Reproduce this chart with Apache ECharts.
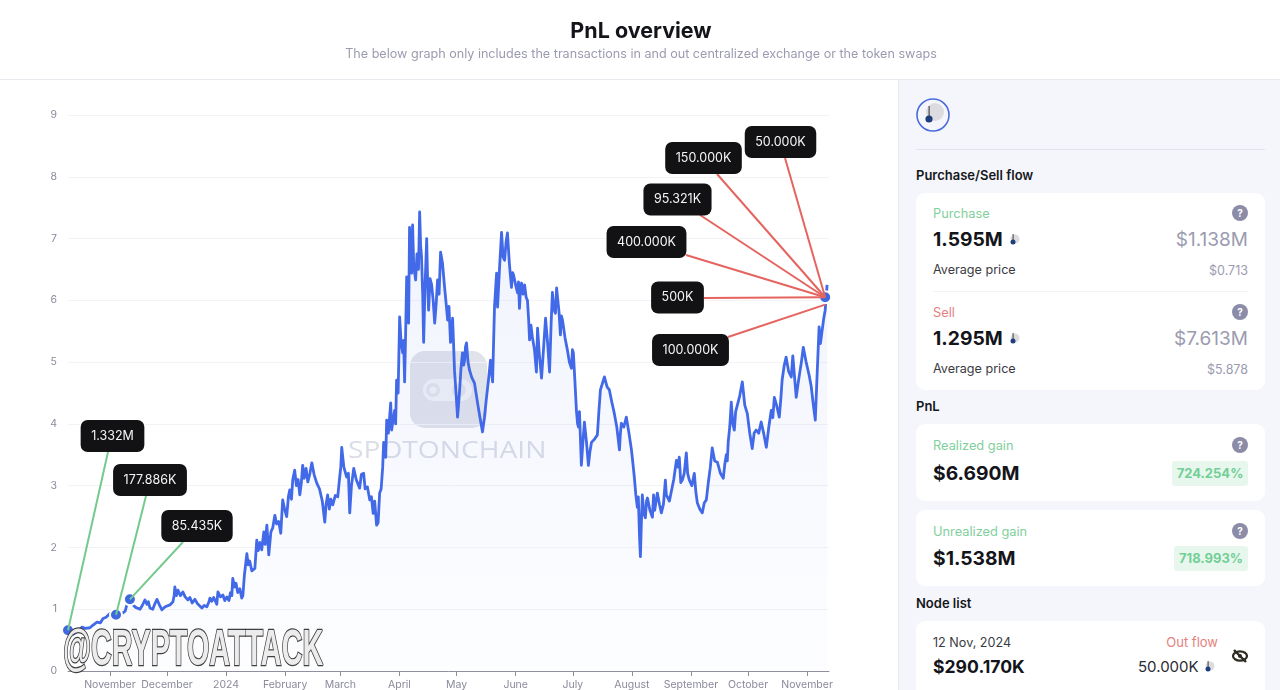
<!DOCTYPE html>
<html>
<head>
<meta charset="utf-8">
<script src="https://cdn.jsdelivr.net/npm/echarts@6/dist/echarts.min.js"></script>
<style>
html,body{margin:0;padding:0;width:1280px;height:690px;overflow:hidden;background:#fff;font-family:Inter,"Noto Sans",sans-serif;}
#chart{position:absolute;left:0;top:0;width:1280px;height:690px;}
#side{position:absolute;left:898px;top:80px;width:382px;height:610px;background:#f5f6fb;border-left:1px solid #e9eaf0;box-sizing:border-box;}
#hline{position:absolute;left:0;top:79px;width:1280px;height:1px;background:#e8e9ef;}
.a{position:absolute;transform:translateY(-50%);white-space:nowrap;line-height:1.2;margin-top:1px;}
.r{transform:translate(-100%,-50%);}
.card{position:absolute;left:916px;width:349px;background:#fff;border-radius:9px;}
.h{font-size:13px;font-weight:600;color:#16171c;left:916px;}
.big{font-size:19.3px;font-weight:700;color:#14151a;left:933px;}
.usd{font-size:19px;color:#9b9bb0;left:1248px;}
.lab{font-size:12.6px;color:#3a3b42;left:933px;}
.sm{font-size:12.5px;color:#9b9bb0;left:1248px;}
.g{font-size:12.8px;color:#7fd09c;left:933px;}
.s{font-size:12.8px;color:#e57f80;left:933px;}
.q{position:absolute;width:16px;height:16px;border-radius:50%;background:#8c8ca8;color:#fff;font-size:10px;font-weight:700;text-align:center;line-height:16px;left:1232px;}
.pill{position:absolute;background:#e8f7ee;color:#72cf95;font-size:13px;font-weight:700;border-radius:3px;text-align:center;line-height:25px;height:25px;}
.tok{position:absolute;}
#over{position:absolute;left:0;top:0;width:1280px;height:690px;overflow:hidden;}
</style>
</head>
<body>
<div id="chart"></div>
<div id="hline"></div>
<div id="side"></div>
<div id="over">
  <svg class="tok" style="left:915px;top:97px" width="36" height="36" viewBox="0 0 36 36">
    <circle cx="18" cy="18" r="16" fill="none" stroke="#4a6ae0" stroke-width="1.6"/>
    <circle cx="20" cy="15" r="9" fill="#dcdce0"/><rect x="13.6" y="9" width="1" height="13" fill="#333"/><circle cx="14" cy="22" r="3.6" fill="#1f3f7c"/>
  </svg>
  <div style="position:absolute;left:916px;top:149px;width:349px;height:1px;background:#e3e4eb"></div>
  <div class="a h" style="top:175px">Purchase/Sell flow</div>

  <div class="card" style="top:193px;height:197px"></div>
  <div class="a g" style="top:213px">Purchase</div>
  <div class="q" style="top:205px">?</div>
  <div class="a big" style="top:239px">1.595M</div>
  <svg class="tok" style="left:1008px;top:233px" width="12" height="13" viewBox="0 0 12 13"><circle cx="7" cy="6" r="4.5" fill="#dcdce0"/><rect x="4.6" y="1" width="1" height="8" fill="#444"/><circle cx="5" cy="9" r="2.5" fill="#1f3f7c"/></svg>
  <div class="a r usd" style="top:239px">$1.138M</div>
  <div class="a lab" style="top:269px">Average price</div>
  <div class="a r sm" style="top:269px">$0.713</div>
  <div style="position:absolute;left:933px;top:291px;width:315px;height:1px;background:#f3f3f6"></div>
  <div class="a s" style="top:312px">Sell</div>
  <div class="q" style="top:304px">?</div>
  <div class="a big" style="top:338px">1.295M</div>
  <svg class="tok" style="left:1008px;top:332px" width="12" height="13" viewBox="0 0 12 13"><circle cx="7" cy="6" r="4.5" fill="#dcdce0"/><rect x="4.6" y="1" width="1" height="8" fill="#444"/><circle cx="5" cy="9" r="2.5" fill="#1f3f7c"/></svg>
  <div class="a r usd" style="top:338px">$7.613M</div>
  <div class="a lab" style="top:368px">Average price</div>
  <div class="a r sm" style="top:368px">$5.878</div>

  <div class="a h" style="top:406px">PnL</div>
  <div class="card" style="top:424px;height:77px"></div>
  <div class="a g" style="top:445px">Realized gain</div>
  <div class="q" style="top:437px">?</div>
  <div class="a big" style="top:473px">$6.690M</div>
  <div class="pill" style="left:1172px;top:461px;width:76px">724.254%</div>

  <div class="card" style="top:510px;height:76px"></div>
  <div class="a g" style="top:531px">Unrealized gain</div>
  <div class="q" style="top:523px">?</div>
  <div class="a big" style="top:558px">$1.538M</div>
  <div class="pill" style="left:1174px;top:546px;width:74px">718.993%</div>

  <div class="a h" style="top:603px">Node list</div>
  <div class="card" style="top:621px;height:90px"></div>
  <div class="a lab" style="top:642px">12 Nov, 2024</div>
  <div class="a r" style="top:642px;left:1218px;font-size:13px;color:#e57f80">Out flow</div>
  <div class="a big" style="top:666px;font-size:17.6px">$290.170K</div>
  <div class="a" style="top:666px;left:1138px;font-size:15px;color:#2b2c33">50.000K</div>
  <svg class="tok" style="left:1203px;top:660px" width="12" height="13" viewBox="0 0 12 13"><circle cx="7" cy="6" r="4.5" fill="#dcdce0"/><rect x="4.6" y="1" width="1" height="8" fill="#444"/><circle cx="5" cy="9" r="2.5" fill="#1f3f7c"/></svg>
  <svg class="tok" style="left:1231px;top:647px" width="18" height="18" viewBox="0 0 18 18"><ellipse cx="9" cy="9" rx="7" ry="4.6" fill="none" stroke="#2d2a20" stroke-width="2.2"/><circle cx="9" cy="9" r="2" fill="#2d2a20"/><line x1="3" y1="3" x2="15" y2="15" stroke="#2d2a20" stroke-width="2.4"/></svg>
</div>
<script>
// Axis
const axisStart = new Date(2023, 9, 10).getTime();
const axisEnd = new Date(2024, 10, 12, 12).getTime();
const DAY = 86400000;
const monthTicks = [[2023,10],[2023,11],[2024,0],[2024,1],[2024,2],[2024,3],[2024,4],[2024,5],[2024,6],[2024,7],[2024,8],[2024,9],[2024,10]];
const monthNames = ['2024','February','March','April','May','June','July','August','September','October','November','December'];
const yTicks = [0,1,2,3,4,5,6,7,8,9];

// Price line: [days after axisStart, price]
const pricePath = [
[0,.66],[1.5,.58],[3,.6],[5,.64],[7.3,.71],[9,.69],[11.5,.70],[13,.74],[15.2,.79],[17,.78],[18.4,.85],[20,.87],[22,.93],[25.2,.91],[27,.88],[28.3,.93],[30,.97],[30.9,1.07],[32.5,1.10],[34.1,1.07],[35.5,1.03],[36.5,1.06],[37.8,1.0],[39,1.06],[40.4,1.15],[41.5,1.08],[42.2,1.12],[43,1.02],[44.5,1.0],[45.5,1.08],[46.7,1.16],[48,1.07],[49.3,.99],[51,1.04],[53.5,1.07],[55.1,1.12],[55.7,1.22],[56.1,1.36],[56.9,1.22],[57.7,1.31],[59,1.22],[60.3,1.28],[61.5,1.2],[62.9,1.15],[64,1.19],[65.2,1.1],[66.6,1.16],[68,1.09],[70.3,1.02],[71.5,1.06],[72.9,1.04],[74,1.12],[74.5,1.18],[75.5,1.13],[76.5,1.19],[78.1,1.08],[78.7,1.28],[80,1.2],[81.3,1.23],[82.3,1.14],[83.4,1.2],[84.5,1.14],[85.3,1.27],[86,1.22],[86.5,1.5],[87.4,1.36],[88.2,1.42],[89.1,1.27],[90.2,1.33],[91.2,1.18],[91.8,1.22],[92.6,1.55],[93.9,1.9],[94.6,1.72],[95.4,1.78],[96.5,1.62],[98.1,1.66],[99.1,2.12],[99.9,1.95],[100.8,2.08],[101.7,1.96],[102.8,2.25],[103.5,2.05],[104.4,2.36],[105.4,1.88],[106.5,2.25],[107.5,2.32],[108.6,2.52],[109.5,2.38],[110.6,2.42],[111.7,2.23],[112.7,2.77],[113.7,2.62],[114.8,2.5],[115.7,2.82],[116.4,2.93],[117.3,2.78],[118,3.1],[119,3.25],[119.9,3.0],[120.8,3.1],[121.7,2.85],[122.5,3.05],[123.2,3.33],[124,3.12],[125,3.28],[125.9,3.06],[127,3.2],[128,3.37],[129.2,3.18],[130.6,3.04],[132,2.95],[133.5,2.75],[134.8,2.41],[135.5,2.7],[136.3,2.85],[137.2,2.62],[138,2.78],[139,2.69],[140.3,2.84],[141.6,2.82],[142.5,3.1],[143.2,3.3],[143.7,3.62],[144.8,3.3],[146.3,3.14],[147.2,3.2],[147.9,2.56],[148.8,3.0],[150,3.28],[151.3,3.1],[153.1,2.96],[154,3.18],[155.2,3.2],[156,2.95],[157.2,2.98],[158.4,2.77],[159.3,2.82],[160.2,2.55],[161,2.75],[162,2.36],[162.8,2.4],[163.6,2.88],[164.4,2.95],[165.2,3.3],
[165.7,3.7],[166.8,3.46],[167.3,4.06],[168.2,3.85],[169.4,4.34],[169.9,3.9],[170.6,4.05],[171.5,4.22],[172,4.0],[172.5,4.71],[173.3,4.5],[174.1,5.73],[174.9,5.3],[175.7,5.15],[176.2,5.35],[176.7,4.68],[177.2,5.4],[177.8,6.38],[178.3,6.05],[178.8,5.63],[179.3,7.18],[179.9,6.6],[180.4,6.44],[180.9,7.22],[181.5,6.55],[182.5,6.33],[183.2,6.75],[184,6.5],[184.6,7.43],[185.1,6.9],[185.6,6.7],[186.2,6.1],[186.7,5.32],[187.4,6.2],[188.3,7.0],[188.8,6.3],[189.3,5.84],[190.1,6.35],[190.9,6.25],[191.7,6.0],[192.5,5.63],[193.3,5.95],[194,6.33],[194.8,6.1],[195.6,6.78],[196.6,6.6],[197.7,6.21],[198.5,5.95],[199.3,5.68],[200,5.9],[200.8,5.32],[201.4,5.5],[201.9,5.71],[202.4,5.3],[202.9,4.87],[203.7,4.5],[204.5,4.11],[205,4.3],[205.6,4.55],[206.3,4.9],[207.1,5.15],[207.7,4.95],[208.2,5.03],[208.7,5.25],[209.2,5.31],[210,5.0],[210.8,4.87],[212,4.75],[213.4,4.66],[214.2,4.5],[215,4.34],[216.3,4.1],[217.6,3.87],[218.6,4.1],[219.7,4.43],[220.7,4.7],[221.8,5.03],[222.3,4.85],[222.9,4.68],[223.4,5.3],[223.9,5.89],[224.5,6.2],[225,6.44],[225.5,5.89],[226.5,6.5],[227.6,7.1],[228.4,6.7],[229.2,6.65],[230,6.95],[230.7,7.09],[231.7,6.6],[232.8,6.21],[233.4,6.45],[233.9,6.41],[235,6.25],[236,6.12],[236.5,6.3],[237,5.87],[237.6,6.2],[238.1,6.28],[238.9,6.1],[239.7,6.25],[240.5,6.05],[241.2,6.0],[241.8,5.7],[242.3,5.36],[243,5.6],[243.8,5.4],[244.9,5.2],[245.9,4.84],[246.5,5.55],[247.5,5.1],[248.6,4.74],[249.6,5.2],[250.7,5.71],[251.8,5.3],[252.8,4.84],[253.6,5.6],[254.3,6.13],[255.1,5.85],[255.9,5.79],[256.5,6.2],[257,6.21],[257.8,5.8],[258.5,5.44],[259,5.75],[259.6,5.68],[260.9,5.4],[262.2,5.19],[263.2,5.0],[264.3,4.9],[264.8,5.2],[265.3,5.15],[266.1,4.7],[266.9,4.22],[267.5,4.0],[268,3.95],[268.5,4.2],[269,4.17],[269.5,3.33],[270.3,3.7],[271.1,4.03],[272.2,3.7],[273.2,3.33],[274,3.55],[274.8,3.7],[276.3,3.75],[277.9,3.82],[278.7,4.2],[279.5,4.55],[280.5,4.65],[281.6,4.76],[283,4.6],[284.2,4.55],[285.5,4.35],[286.8,4.17],[288.1,3.95],[289.5,3.58],[290,3.85],[290.5,4.01],[291.8,3.95],[293.1,4.11],[294.5,3.85],[295.8,3.58],[296.6,3.35],[297.3,3.14],[298.1,2.85],[298.9,2.65],[299.4,2.82],[300,2.2],[300.5,1.85],[301,2.4],[301.5,2.85],[302.3,2.55],[303.1,2.48],[303.7,2.75],[304.2,2.8],[305.5,2.6],[306.8,2.49],[307.4,2.85],[308,2.6],[309.4,2.88],[310.5,2.7],[311.5,2.56],[312.6,2.7],[313.6,3.09],[314.1,2.85],[314.6,2.82],[315.7,2.75],[316.7,2.73],[318,3.1],[319.4,3.41],[320.2,3.3],[320.9,3.46],[321.7,3.05],[322.5,3.09],[323.5,3.2],[324.6,3.53],[325.3,3.2],[326.2,3.09],[327.5,3.0],[328.8,3.2],[329.6,2.9],[330.4,2.72],[331.7,2.62],[333,2.56],[334,2.72],[335.1,2.77],[336.1,3.04],[337.2,3.3],[338.2,3.61],[339.5,3.4],[340.9,3.38],[342.5,3.2],[344,3.12],[344.8,3.35],[345.6,3.5],[346.1,3.4],[346.6,3.71],[347.4,3.95],[348.2,4.35],[349,4.0],[349.8,3.9],[350.5,4.2],[351.3,4.17],[352.6,4.45],[354,4.68],[355.3,4.3],[356.6,4.17],[357.9,3.85],[359.2,3.6],[360.2,3.85],[361.3,3.9],[362.6,3.85],[363.9,4.03],[365.2,3.85],[366.6,3.62],[367.9,3.95],[369.2,4.22],[370,4.1],[370.8,4.43],[372,4.3],[373.4,4.11],[374.2,4.4],[374.9,4.71],[376,4.95],[377,5.08],[378.3,4.85],[379.7,4.76],[380.5,5.1],[381.2,5.08],[382.3,4.43],[383.5,4.7],[385,5.0],[386,5.24],[387.5,5.0],[389,4.8],[390.2,4.6],[391.3,4.3],[392.3,4.06],[393,4.6],[394.3,5.57],[395,5.3],[395.9,5.31],[396.7,5.7],[397.5,5.84],[398.5,6.25]
];

// Purchases (green) and sells (red)
const buyLabels = ['1.332M','177.886K','85.435K'];
const buyDays = [0,25.2,32.5];
const buyPrices = [0.66,0.91,1.16];
const sellLabels = ['50.000K','150.000K','95.321K','400.000K','500K','100.000K'];
const sellDays = [397.5,397.5,397.5,397.5,397.5,397.5];
const sellPrices = [6.05,6.05,6.05,6.05,6.05,5.93];

// Callout layout (pixels): label centre, and where the leader leaves the box
const buyBoxes = [[112.5,436],[150,480],[197,526]];
const buyLeaders = [[108,452],[146,496],[183,542]];
const sellBoxes = [[780.5,142],[703.5,158],[677.5,199.5],[646.5,242],[677.5,297.5],[690.5,350]];
const sellLeaders = [[785,158],[717,174],[700,215],[686,255],[704,298],[728,337]];

const toTime = d => axisStart + d * DAY;
const line = pricePath.map(p => [toTime(p[0]), p[1]]);
const tickTimes = monthTicks.map(m => new Date(m[0], m[1], 1).getTime());
const fmt = v => { const d = new Date(v); return d.getMonth() === 0 ? String(d.getFullYear()) : monthNames[d.getMonth()]; };

const leaders = (days, vals, ends, color) => days.map((d, i) => [
  { coord: [toTime(d), vals[i]], lineStyle: { color } },
  { x: ends[i][0], y: ends[i][1] }
]);
const boxes = (labels, pos) => labels.map((t, i) => ({ name: t, x: pos[i][0], y: pos[i][1], value: t }));

const chart = echarts.init(document.getElementById('chart'), null, { renderer: 'canvas' });
chart.setOption({
  animation: false,
  backgroundColor: '#fff',
  title: {
    text: 'PnL overview',
    subtext: 'The below graph only includes the transactions in and out centralized exchange or the token swaps',
    left: 636, top: 16, textAlign: 'center', itemGap: 5,
    textStyle: { fontFamily: 'Inter', fontSize: 21.5, fontWeight: 700, color: '#14151a' },
    subtextStyle: { fontFamily: 'Inter', fontSize: 12.6, color: '#9b9bb0' }
  },
  grid: { left: 68, right: 451, top: 115, bottom: 18 },
  xAxis: {
    type: 'value', min: axisStart, max: axisEnd,
    axisLine: { lineStyle: { color: '#8f8f9f', width: 1 } },
    axisTick: { show: true, length: 5, lineStyle: { color: '#8f8f9f' }, customValues: tickTimes },
    axisLabel: { fontFamily: 'Inter', fontSize: 10.5, color: '#8a8a9c', margin: 8, customValues: tickTimes, formatter: fmt, hideOverlap: false },
    splitLine: { show: false }
  },
  yAxis: {
    type: 'value', min: yTicks[0], max: yTicks[yTicks.length - 1], interval: 1,
    axisLine: { show: false }, axisTick: { show: false },
    axisLabel: { fontFamily: 'Inter', fontSize: 10.5, color: '#8a8a9c', margin: 11 },
    splitLine: { lineStyle: { color: '#f3f3f7', width: 1 } }
  },
  graphic: [
    { type: 'rect', z: 0, shape: { x: 410, y: 351, width: 77, height: 77, r: 15 }, style: { fill: '#e1e3eb' } },
    { type: 'rect', z: 0, shape: { x: 423, y: 379, width: 49, height: 22, r: 11 }, style: { fill: '#f0f1f6' } },
    { type: 'circle', z: 0, shape: { cx: 433, cy: 390, r: 7 }, style: { fill: '#e1e3eb' } },
    { type: 'circle', z: 0, shape: { cx: 433, cy: 390, r: 3.5 }, style: { fill: '#f0f1f6' } },
    { type: 'circle', z: 0, shape: { cx: 459, cy: 390, r: 7 }, style: { fill: '#e1e3eb' } },
    { type: 'text', z: 0, x: 348, y: 439, scaleX: 1.15, style: { text: 'SPOTONCHAIN', fill: '#dadde7', font: '500 24.5px "Open Sans"' } },
    { type: 'text', z: 20, x: 63, y: 626, scaleX: 0.575, style: { text: '@CRYPTOATTACK', fill: '#ececec', stroke: '#3f3f3f', lineWidth: 2.4, font: '700 50px "Liberation Sans"', shadowColor: 'rgba(0,0,0,0.4)', shadowBlur: 2, shadowOffsetX: 2, shadowOffsetY: 1 } }
  ],
  series: [
    {
      name: 'Price', type: 'line', data: line, showSymbol: false, smooth: false, sampling: null, z: 2,
      lineStyle: { color: '#4169e8', width: 2.8, join: 'round' },
      areaStyle: { color: new echarts.graphic.LinearGradient(0, 0, 0, 1, [
        { offset: 0, color: 'rgba(65,105,232,0.11)' }, { offset: 1, color: 'rgba(65,105,232,0.015)' }
      ]) }
    },
    {
      name: 'Leaders', type: 'line', data: [], z: 3, silent: true,
      markLine: {
        symbol: 'none', silent: true, animation: false, label: { show: false },
        lineStyle: { type: 'solid', width: 2, opacity: 1 },
        data: leaders(buyDays, buyPrices, buyLeaders, '#74ca8e').concat(leaders(sellDays, sellPrices, sellLeaders, '#e5645f'))
      }
    },
    {
      name: 'Trades', type: 'scatter', z: 4, clip: false, symbolSize: 12, silent: true,
      itemStyle: { color: '#3f67e0', borderColor: '#fff', borderWidth: 2, opacity: 1 },
      data: buyDays.map((d, i) => [toTime(d), buyPrices[i]]).concat([[toTime(sellDays[0]), sellPrices[0]]])
    },
    {
      name: 'Callouts', type: 'line', data: [], z: 5, silent: true,
      markPoint: {
        silent: true, animation: false, symbol: 'rect', symbolSize: 0,
        label: {
          show: true, position: 'inside', formatter: '{c}', color: '#f5f5f5',
          fontFamily: 'Inter', fontSize: 12.5, lineHeight: 16,
          backgroundColor: '#121214', borderRadius: 7, padding: [8, 10.5]
        },
        data: boxes(buyLabels, buyBoxes).concat(boxes(sellLabels, sellBoxes))
      }
    }
  ]
});
</script>
</body>
</html>
